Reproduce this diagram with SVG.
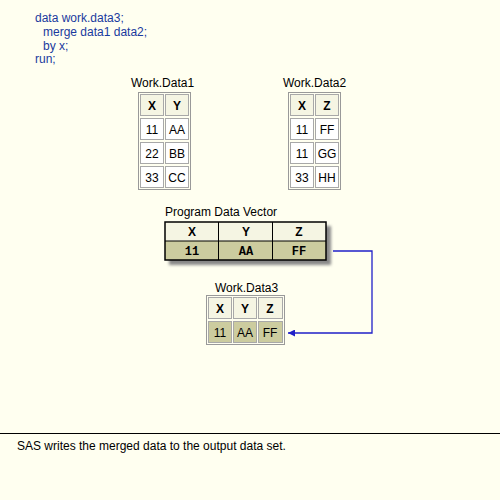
<svg xmlns="http://www.w3.org/2000/svg" width="500" height="500" viewBox="0 0 500 500">
<defs>
<style>
text{font-family:"Liberation Sans",Arial,sans-serif;font-size:12px}
.code{fill:#1a3a9e}
.lbl{fill:#000}
.cellh{fill:#f5f5e3;stroke:#a8a8a8;stroke-width:1}
.celld{fill:#ffffff;stroke:#a8a8a8;stroke-width:1}
.cellk{fill:#cccc9f;stroke:#a8a8a8;stroke-width:1}
.outer{fill:none;stroke:#999;stroke-width:1}
.ht{font-weight:bold;text-anchor:middle}
.dt{text-anchor:middle}
.mono{font-family:"Liberation Mono","Courier New",monospace;font-size:12px;font-weight:bold;text-anchor:middle}
.conn{fill:none;stroke:#2020c8;stroke-width:1.3}
</style>
<marker id="ah" viewBox="0 0 10 10" refX="10" refY="5" markerWidth="9" markerHeight="7" markerUnits="userSpaceOnUse" orient="auto">
<path d="M0,0 L10,5 L0,10 z" fill="#2020c8"/>
</marker>
<filter id="sh" x="-10%" y="-20%" width="130%" height="160%">
<feGaussianBlur stdDeviation="1.5"/>
</filter>
</defs>
<rect x="0" y="0" width="500" height="500" fill="#fffff0"/>
<g id="code">
<text class="code" x="35" y="22">data work.data3;</text>
<text class="code" x="43" y="36">merge data1 data2;</text>
<text class="code" x="43" y="50">by x;</text>
<text class="code" x="35" y="63">run;</text>
</g>
<g id="data1">
<text class="lbl" x="131" y="87">Work.Data1</text>
<rect class="outer" x="138.5" y="92.5" width="52" height="97"/>
<rect class="cellh" x="140.5" y="94.5" width="23" height="21"/>
<rect class="cellh" x="165.5" y="94.5" width="23" height="21"/>
<rect class="celld" x="140.5" y="118.5" width="23" height="21"/>
<rect class="celld" x="165.5" y="118.5" width="23" height="21"/>
<rect class="celld" x="140.5" y="142.5" width="23" height="21"/>
<rect class="celld" x="165.5" y="142.5" width="23" height="21"/>
<rect class="celld" x="140.5" y="166.5" width="23" height="21"/>
<rect class="celld" x="165.5" y="166.5" width="23" height="21"/>
<text class="ht" x="152" y="110">X</text>
<text class="ht" x="177" y="110">Y</text>
<text class="dt" x="152" y="134">11</text>
<text class="dt" x="177" y="134">AA</text>
<text class="dt" x="152" y="158">22</text>
<text class="dt" x="177" y="158">BB</text>
<text class="dt" x="152" y="182">33</text>
<text class="dt" x="177" y="182">CC</text>
</g>
<g id="data2">
<text class="lbl" x="283" y="87">Work.Data2</text>
<rect class="outer" x="288.5" y="92.5" width="52" height="97"/>
<rect class="cellh" x="290.5" y="94.5" width="23" height="21"/>
<rect class="cellh" x="315.5" y="94.5" width="23" height="21"/>
<rect class="celld" x="290.5" y="118.5" width="23" height="21"/>
<rect class="celld" x="315.5" y="118.5" width="23" height="21"/>
<rect class="celld" x="290.5" y="142.5" width="23" height="21"/>
<rect class="celld" x="315.5" y="142.5" width="23" height="21"/>
<rect class="celld" x="290.5" y="166.5" width="23" height="21"/>
<rect class="celld" x="315.5" y="166.5" width="23" height="21"/>
<text class="ht" x="302" y="110">X</text>
<text class="ht" x="327" y="110">Z</text>
<text class="dt" x="302" y="134">11</text>
<text class="dt" x="327" y="134">FF</text>
<text class="dt" x="302" y="158">11</text>
<text class="dt" x="327" y="158">GG</text>
<text class="dt" x="302" y="182">33</text>
<text class="dt" x="327" y="182">HH</text>
</g>
<g id="pdv">
<text class="lbl" x="165" y="216">Program Data Vector</text>
<rect x="169" y="226" width="162" height="39" fill="#888" filter="url(#sh)"/>
<rect x="165" y="222" width="161" height="19" fill="#f5f5e3"/>
<rect x="165" y="241" width="161" height="19" fill="#cccc9f"/>
<rect x="165" y="222" width="161" height="38" fill="none" stroke="#000" stroke-width="1.5"/>
<line x1="165" y1="241" x2="326" y2="241" stroke="#000" stroke-width="1"/>
<line x1="218.5" y1="222" x2="218.5" y2="260" stroke="#000" stroke-width="1"/>
<line x1="272.5" y1="222" x2="272.5" y2="260" stroke="#000" stroke-width="1"/>
<text class="ht" x="192" y="236">X</text>
<text class="ht" x="246" y="236">Y</text>
<text class="ht" x="299" y="236">Z</text>
<text class="mono" x="192" y="255">11</text>
<text class="mono" x="246" y="255">AA</text>
<text class="mono" x="299" y="255">FF</text>
</g>
<g id="data3">
<text class="lbl" x="215" y="292">Work.Data3</text>
<rect class="outer" x="206.5" y="295.5" width="78" height="49"/>
<rect class="cellh" x="208.5" y="297.5" width="23" height="21"/>
<rect class="cellh" x="233.5" y="297.5" width="23" height="21"/>
<rect class="cellh" x="258.5" y="297.5" width="24" height="21"/>
<rect class="cellk" x="208.5" y="321.5" width="23" height="21"/>
<rect class="cellk" x="233.5" y="321.5" width="23" height="21"/>
<rect class="cellk" x="258.5" y="321.5" width="24" height="21"/>
<text class="ht" x="220" y="313">X</text>
<text class="ht" x="245" y="313">Y</text>
<text class="ht" x="270" y="313">Z</text>
<text class="dt" x="220" y="337">11</text>
<text class="dt" x="245" y="337">AA</text>
<text class="dt" x="270" y="337">FF</text>
</g>
<g id="connectors">
<polyline class="conn" points="333,251 372,251 372,333 288,333" marker-end="url(#ah)"/>
</g>
<g id="footer">
<line x1="0" y1="433.5" x2="500" y2="433.5" stroke="#000" stroke-width="1"/>
<text class="lbl" x="17" y="450">SAS writes the merged data to the output data set.</text>
</g>
</svg>
